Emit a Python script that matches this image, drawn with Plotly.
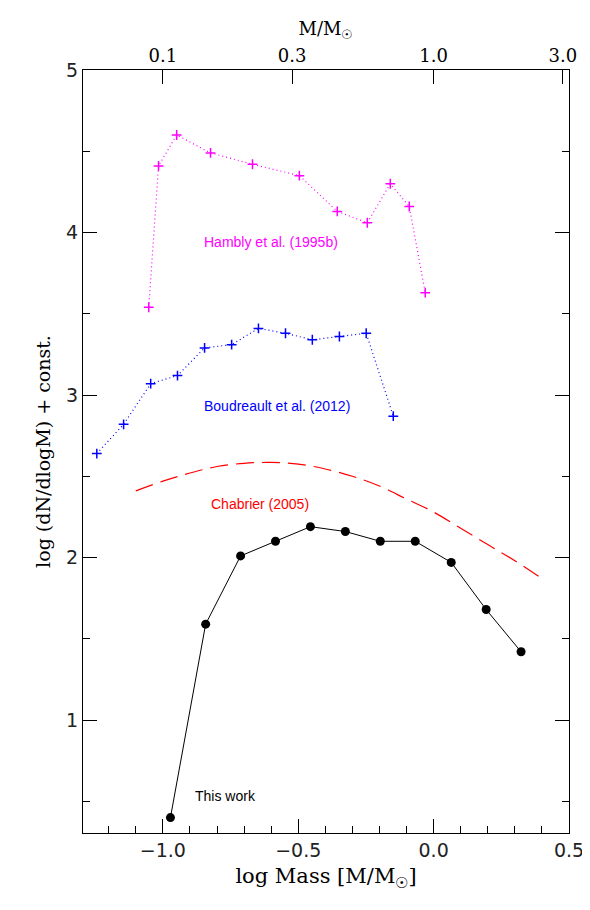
import plotly.graph_objects as go

tw_x = [-0.972, -0.842, -0.713, -0.584, -0.455, -0.326, -0.197, -0.068, 0.065, 0.194, 0.323]
tw_y = [0.40, 1.59, 2.01, 2.10, 2.19, 2.16, 2.10, 2.10, 1.97, 1.68, 1.42]
ch_x = [-1.1, -1.0, -0.9, -0.8, -0.7, -0.6, -0.5, -0.4, -0.3, -0.2, -0.1, 0.0, 0.1, 0.2, 0.3, 0.4]
ch_y = [2.41, 2.47, 2.52, 2.56, 2.58, 2.585, 2.575, 2.545, 2.50, 2.44, 2.36, 2.28, 2.18, 2.08, 1.98, 1.87]
bo_x = [-1.244, -1.145, -1.045, -0.946, -0.846, -0.746, -0.647, -0.547, -0.448, -0.348, -0.249, -0.149]
bo_y = [2.64, 2.82, 3.07, 3.12, 3.29, 3.31, 3.41, 3.38, 3.34, 3.36, 3.38, 2.87]
ha_x = [-1.052, -1.016, -0.949, -0.824, -0.669, -0.496, -0.356, -0.245, -0.160, -0.090, -0.031]
ha_y = [3.54, 4.41, 4.60, 4.49, 4.42, 4.35, 4.13, 4.06, 4.30, 4.16, 3.63]
top_ticks = [0.1, 0.3, 1.0, 3.0]
top_labels = ["0.1", "0.3", "1.0", "3.0"]

fig = go.Figure()
fig.add_trace(go.Scatter(x=ha_x, y=ha_y, mode="lines+markers",
    line=dict(color="#ff00ff", width=1.2, dash="1px,3px"),
    marker=dict(symbol="cross-thin", size=7, line=dict(color="#ff00ff", width=1.5))))
fig.add_trace(go.Scatter(x=bo_x, y=bo_y, mode="lines+markers",
    line=dict(color="#0000ff", width=1.2, dash="1px,3px"),
    marker=dict(symbol="cross-thin", size=7, line=dict(color="#0000ff", width=1.5))))
fig.add_trace(go.Scatter(x=ch_x, y=ch_y, mode="lines", line_shape="spline",
    line=dict(color="#ff0000", width=1.2, dash="18px,8px")))
fig.add_trace(go.Scatter(x=tw_x, y=tw_y, mode="lines+markers",
    line=dict(color="black", width=1), marker=dict(color="black", size=9)))
fig.add_trace(go.Scatter(x=[0.1], y=[1], xaxis="x2", mode="markers", marker=dict(opacity=0), hoverinfo="skip"))

txt = dict(family="Liberation Sans", size=14)
fig.add_annotation(x=-0.6, y=3.94, text="Hambly et al. (1995b)", showarrow=False, font=dict(color="#ff00ff", **txt))
fig.add_annotation(x=-0.58, y=2.93, text="Boudreault et al. (2012)", showarrow=False, font=dict(color="#0000ff", **txt))
fig.add_annotation(x=-0.64, y=2.33, text="Chabrier (2005)", showarrow=False, font=dict(color="#ff0000", **txt))
fig.add_annotation(x=-0.77, y=0.53, text="This work", showarrow=False, font=dict(color="black", **txt))

tickfont = dict(family="DejaVu Sans", size=19, color="#222")
fig.update_layout(
    width=582, height=902, plot_bgcolor="white", paper_bgcolor="white", showlegend=False,
    margin=dict(l=75, r=21, t=62, b=77),
    xaxis=dict(range=[-1.295, 0.5], tickvals=[-1.0, -0.5, 0.0, 0.5], ticktext=["\u22121.0", "\u22120.5", "0.0", "0.5"],
               automargin=False,
               ticks="inside", ticklen=14, tickwidth=1, tickcolor="black",
               minor=dict(dtick=0.1, tick0=0, ticks="inside", ticklen=7, tickcolor="black"),
               showline=True, linecolor="black", linewidth=1.2, showgrid=False, zeroline=False,
               tickfont=tickfont,
               title=dict(text="log Mass [M/M<sub>\u2609</sub>]", font=dict(family="DejaVu Serif", size=21, color="black"), standoff=8)),
    xaxis2=dict(type="log", overlaying="x", side="top", range=[-1.295, 0.5], tickvals=top_ticks, ticktext=top_labels,
                automargin=False,
                ticks="inside", ticklen=14, tickcolor="black", showline=True, linecolor="black", linewidth=1.2,
                showgrid=False, tickfont=dict(family="DejaVu Serif", size=18, color="black"),
                title=dict(text="M/M<sub>\u2609</sub>", font=dict(family="DejaVu Serif", size=18, color="black"), standoff=4)),
    yaxis=dict(range=[0.305, 5.0], tickvals=[1, 2, 3, 4, 5], ticks="inside", ticklen=14, tickcolor="black",
               automargin=False,
               minor=dict(dtick=0.5, tick0=0, ticks="inside", ticklen=7, tickcolor="black"),
               showline=True, mirror="ticks", linecolor="black", linewidth=1.2, showgrid=False, zeroline=False,
               tickfont=tickfont,
               title=dict(text="log (dN/dlogM) + const.", font=dict(family="DejaVu Serif", size=19, color="black"), standoff=10)),
)
fig.write_html("out.html")
